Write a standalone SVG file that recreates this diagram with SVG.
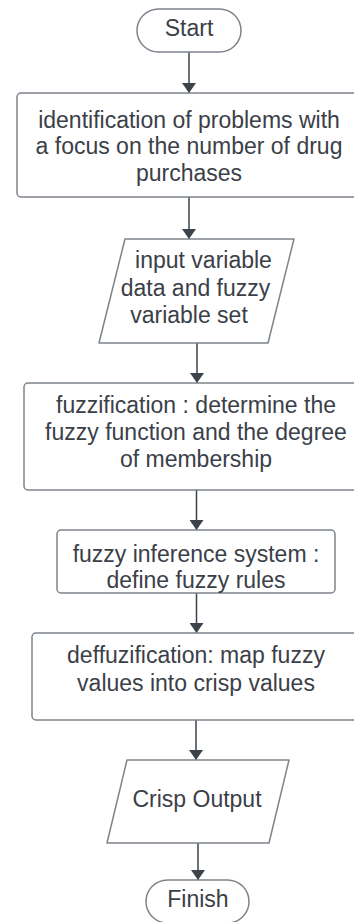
<svg xmlns="http://www.w3.org/2000/svg" width="354" height="922" viewBox="0 0 354 922">
<defs>
<style>
.shape{fill:#fff;stroke:#7e848c;stroke-width:1.5;stroke-linejoin:round}
.t{font-family:"Liberation Sans",Arial,sans-serif;font-size:23px;fill:#3b4048;text-anchor:middle}
.c{stroke:#3d434b;stroke-width:1.5;fill:none;marker-end:url(#ah)}
</style>
<marker id="ah" viewBox="0 0 10 14" refX="10" refY="7" markerWidth="10" markerHeight="14" markerUnits="userSpaceOnUse" orient="auto">
<path d="M0,0 L10,7 L0,14 Z" transform="rotate(0)" fill="#3d434b"/>
</marker>
</defs>
<rect width="354" height="922" fill="#fff"/>
<g id="connectors">
<line class="c" x1="189" y1="52" x2="189" y2="93"/>
<line class="c" x1="189" y1="197" x2="189" y2="239"/>
<line class="c" x1="197" y1="343" x2="197" y2="383"/>
<line class="c" x1="196.5" y1="490" x2="196.5" y2="530"/>
<line class="c" x1="196.5" y1="593" x2="196.5" y2="633"/>
<line class="c" x1="196" y1="720" x2="196" y2="760"/>
<line class="c" x1="198" y1="843" x2="198" y2="880"/>
</g>
<g id="start">
<rect class="shape" x="137" y="9" width="104" height="43" rx="21.5"/>
<text class="t" x="189" y="36">Start</text>
</g>
<g id="identification">
<rect class="shape" x="17" y="93" width="344" height="104" rx="4"/>
<text class="t" x="189" y="127.5">identification of problems with</text>
<text class="t" x="189" y="154">a focus on the number of drug</text>
<text class="t" x="189" y="180.5">purchases</text>
</g>
<g id="input">
<path class="shape" d="M125,239 L294,239 L268,343 L99,343 Z"/>
<text class="t" x="203.5" y="268">input variable</text>
<text class="t" x="195.5" y="296">data and fuzzy</text>
<text class="t" x="189" y="323">variable set</text>
</g>
<g id="fuzzification">
<rect class="shape" x="24" y="383" width="345" height="107" rx="4"/>
<text class="t" x="196" y="412.5">fuzzification : determine the</text>
<text class="t" x="196" y="440">fuzzy function and the degree</text>
<text class="t" x="196" y="467">of membership</text>
</g>
<g id="inference">
<rect class="shape" x="57" y="530" width="278" height="63" rx="4"/>
<text class="t" x="196" y="562">fuzzy inference system :</text>
<text class="t" x="196" y="588">define fuzzy rules</text>
</g>
<g id="deffuzification">
<rect class="shape" x="32" y="633" width="329" height="87" rx="4"/>
<text class="t" x="196" y="663">deffuzification: map fuzzy</text>
<text class="t" x="196" y="690.5">values into crisp values</text>
</g>
<g id="crisp">
<path class="shape" d="M127,760 L289,760 L269,843 L107,843 Z"/>
<text class="t" x="197" y="807">Crisp Output</text>
</g>
<g id="finish">
<rect class="shape" x="146" y="880" width="103" height="43" rx="21.5"/>
<text class="t" x="198" y="907">Finish</text>
</g>
</svg>
